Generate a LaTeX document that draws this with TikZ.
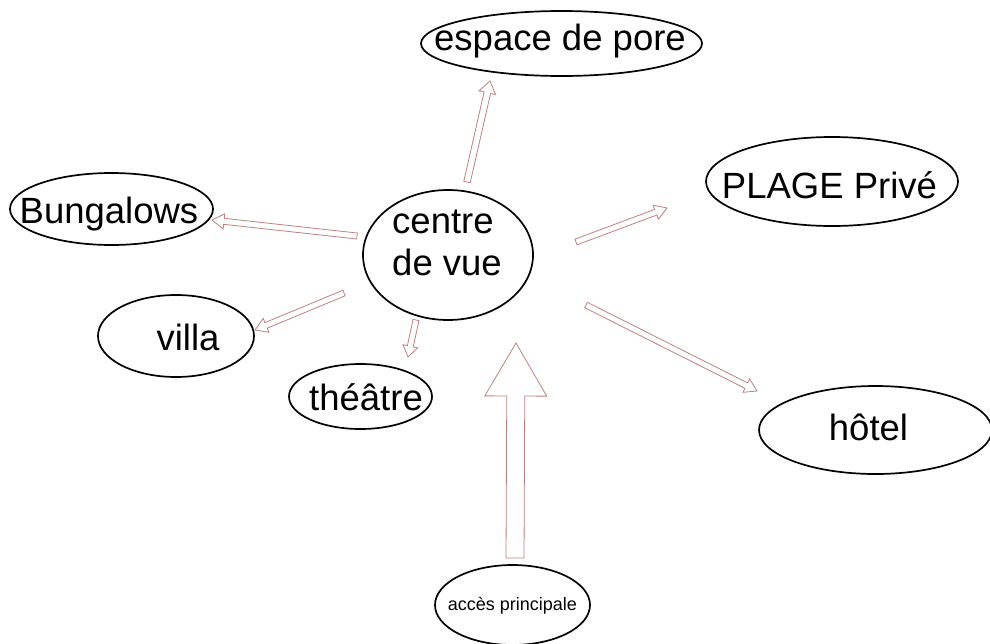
\documentclass[tikz,border=0pt]{standalone}
\usepackage{fontspec}
\setmainfont{Liberation Sans}
\usetikzlibrary{calc,shapes.geometric}
\definecolor{arrowred}{RGB}{190,128,128}
% centred text with offset (dx*2, raise) and no size of its own
\newcommand{\offtxt}[3]{\makebox[0pt][c]{\hspace*{#1}\raisebox{#2}[0pt][0pt]{#3}}}
% hollow block arrow: tail, tip, half shaft, half head, head length
\newcommand{\blockarr}[5]{%
  \coordinate (hb) at ($(#2)!#5!(#1)$);
  \draw[blockline] ($(#1)!#3!90:(#2)$) -- ($(hb)!#3!90:(#2)$) -- ($(hb)!#4!90:(#2)$)
    -- (#2) -- ($(hb)!#4!-90:(#2)$) -- ($(hb)!#3!-90:(#2)$) -- ($(#1)!#3!-90:(#2)$) -- cycle;}
\tikzset{
  oval/.style={ellipse, draw=black, line width=1.7pt, inner sep=0pt,
    font=\fontsize{36.5}{42}\selectfont},
  blockline/.style={draw=arrowred, line width=0.8pt, line join=miter, fill=white}
}
\begin{document}
\begin{tikzpicture}[x=1pt,y=-1pt]
\useasboundingbox (0,0) rectangle (990,643);
% nodes
\node[oval, minimum width=281pt, minimum height=65pt] (pore) at (561.5,43.5)
  {\offtxt{-3pt}{-6.5pt}{espace de pore}};
\node[oval, minimum width=203pt, minimum height=72pt] (bung) at (111.5,209)
  {\offtxt{-5pt}{-14pt}{Bungalows}};
\node[oval, minimum width=170pt, minimum height=130pt] (centre) at (448,255)
  {\offtxt{-2pt}{22pt}{\begin{tabular}[t]{@{}l@{}}centre\\de vue\end{tabular}}};
\node[oval, minimum width=252pt, minimum height=89pt] (plage) at (832,181.5)
  {\offtxt{-5pt}{-16.5pt}{PLAGE Privé}};
\node[oval, minimum width=156pt, minimum height=82pt] (villa) at (176,336)
  {\offtxt{24pt}{-14.7pt}{villa}};
\node[oval, minimum width=143pt, minimum height=65pt] (theatre) at (360.5,396.5)
  {\offtxt{11pt}{-14.2pt}{théâtre}};
\node[oval, minimum width=233pt, minimum height=88pt] (hotel) at (875.5,430)
  {\offtxt{-14pt}{-10pt}{hôtel}};
\node[oval, minimum width=155pt, minimum height=80pt, font=\fontsize{18}{22}\selectfont] (acces) at (512.5,605)
  {\offtxt{0pt}{-5pt}{accès principale}};
% arrow ends
\coordinate (tPore) at (467,182);  \coordinate (hPore) at (490,81);
\coordinate (tBung) at (357,236);  \coordinate (hBung) at (212,220);
\coordinate (tVilla) at (344,293); \coordinate (hVilla) at (255,330);
\coordinate (tTh) at (416,320);    \coordinate (hTh) at (408,357);
\coordinate (tPl) at (576,242);    \coordinate (hPl) at (667,208);
\coordinate (tHo) at (586,305);    \coordinate (hHo) at (757,391);
\coordinate (tAc) at (515,558);    \coordinate (hAc) at (516,343);
\blockarr{tPore}{hPore}{3.3pt}{8.5pt}{12pt}
\blockarr{tBung}{hBung}{3pt}{7.5pt}{12pt}
\blockarr{tVilla}{hVilla}{3pt}{7.5pt}{12pt}
\blockarr{tTh}{hTh}{3pt}{7.5pt}{11pt}
\blockarr{tPl}{hPl}{3pt}{7.5pt}{12pt}
\blockarr{tHo}{hHo}{3pt}{7.5pt}{12pt}
\blockarr{tAc}{hAc}{9pt}{31pt}{53pt}
\end{tikzpicture}
\end{document}
